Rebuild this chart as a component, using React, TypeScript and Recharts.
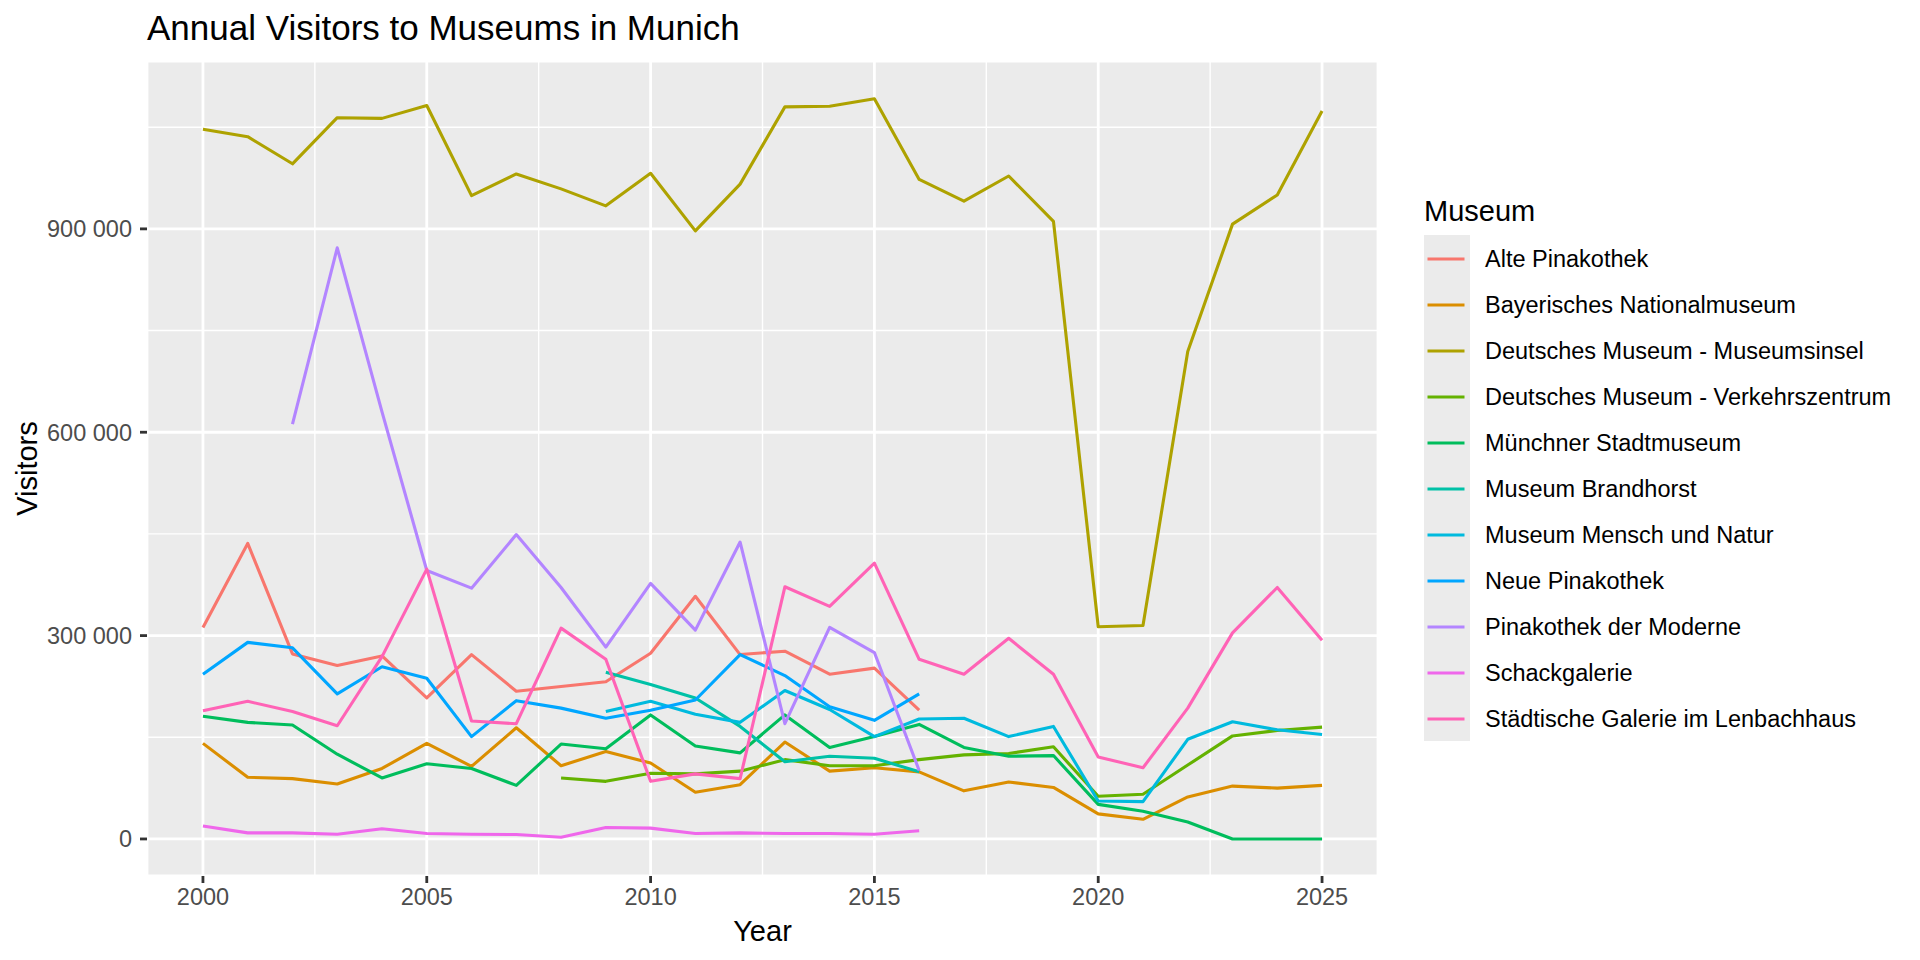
import React from 'react';
import {
  LineChart,
  Line,
  XAxis,
  YAxis,
  CartesianGrid,
  ReferenceLine,
  Legend,
  Label,
} from 'recharts';

// ---------- data ----------
const years = [
  2000, 2001, 2002, 2003, 2004, 2005, 2006, 2007, 2008, 2009, 2010, 2011, 2012,
  2013, 2014, 2015, 2016, 2017, 2018, 2019, 2020, 2021, 2022, 2023, 2024, 2025,
];

const altePinakothek = [
  312000, 436000, 273000, 256000, 270000, 208000, 272000, 218000, 225000, 232000,
  274000, 358000, 272000, 277000, 243000, 252000, 190000,
  null, null, null, null, null, null, null, null, null,
];
const bayerischesNationalmuseum = [
  141000, 91000, 89000, 81000, 104000, 141000, 107000, 164000, 108000, 129000,
  112000, 69000, 80000, 143000, 100000, 105000, 99000, 71000, 84000, 76000,
  37000, 29000, 62000, 78000, 75000, 79000,
];
const museumsinsel = [
  1047000, 1036000, 996000, 1064000, 1063000, 1082000, 949000, 981000, 959000,
  934000, 982000, 897000, 966000, 1080000, 1081000, 1092000, 973000, 941000,
  978000, 911000, 313000, 315000, 719000, 907000, 950000, 1074000,
];
const verkehrszentrum = [
  null, null, null, null, null, null, null, null,
  90000, 85000, 97000, 96000, 100000, 117000, 108000, 108000, 117000, 124000,
  126000, 136000, 63000, 66000, 109000, 152000, 160000, 165000,
];
const stadtmuseum = [
  181000, 172000, 168000, 125000, 90000, 111000, 104000, 79000, 140000, 133000,
  183000, 137000, 127000, 183000, 135000, 151000, 169000, 135000, 122000, 123000,
  51000, 41000, 25000, 0, 0, 0,
];
const brandhorst = [
  null, null, null, null, null, null, null, null, null,
  246000, 228000, 208000, 166000, 114000, 122000, 119000, 99000,
  null, null, null, null, null, null, null, null, null,
];
const menschUndNatur = [
  null, null, null, null, null, null, null, null, null,
  188000, 203000, 184000, 172000, 219000, 191000, 151000, 177000, 178000, 151000,
  166000, 56000, 55000, 147000, 173000, 161000, 154000,
];
const neuePinakothek = [
  243000, 290000, 282000, 214000, 254000, 237000, 151000, 204000, 193000, 178000,
  190000, 205000, 272000, 241000, 195000, 175000, 214000,
  null, null, null, null, null, null, null, null, null,
];
const pinakothekDerModerne = [
  null, null,
  612000, 872000, 630000, 396000, 370000, 449000, 371000, 283000, 377000, 308000,
  438000, 170000, 312000, 275000, 101000,
  null, null, null, null, null, null, null, null, null,
];
const schackgalerie = [
  19000, 9000, 9000, 7000, 15000, 8000, 7000, 6500, 2500, 17000, 16000, 8000,
  9000, 8000, 8000, 7000, 12000,
  null, null, null, null, null, null, null, null, null,
];
const lenbachhaus = [
  189000, 203000, 188000, 167000, 269000, 398000, 174000, 170000, 311000, 265000,
  85000, 96000, 89000, 372000, 343000, 407000, 265000, 243000, 296000, 243000,
  121000, 105000, 193000, 304000, 371000, 293000,
];

const museumNames = [
  'Alte Pinakothek',
  'Bayerisches Nationalmuseum',
  'Deutsches Museum - Museumsinsel',
  'Deutsches Museum - Verkehrszentrum',
  'Münchner Stadtmuseum',
  'Museum Brandhorst',
  'Museum Mensch und Natur',
  'Neue Pinakothek',
  'Pinakothek der Moderne',
  'Schackgalerie',
  'Städtische Galerie im Lenbachhaus',
];
const museumValues = [
  altePinakothek,
  bayerischesNationalmuseum,
  museumsinsel,
  verkehrszentrum,
  stadtmuseum,
  brandhorst,
  menschUndNatur,
  neuePinakothek,
  pinakothekDerModerne,
  schackgalerie,
  lenbachhaus,
];
const museumColors = [
  '#F8766D', '#DB8E00', '#AEA200', '#64B200', '#00BD5C', '#00C1A7',
  '#00BADE', '#00A6FF', '#B385FF', '#EF67EB', '#FF63B6',
];

const xTicks = [2000, 2005, 2010, 2015, 2020, 2025];
const xMinor = [2002.5, 2007.5, 2012.5, 2017.5, 2022.5];
const yTicks = [0, 300000, 600000, 900000];
const yMinor = [150000, 450000, 750000, 1050000];

const chartTitle = 'Annual Visitors to Museums in Munich';
const xTitle = 'Year';
const yTitle = 'Visitors';
const legendTitle = 'Museum';

// ---------- derived table ----------
const tableData = years.map((year, i) => {
  const row: Record<string, number | null> = { year };
  museumValues.forEach((vals, k) => {
    row['s' + k] = vals[i];
  });
  return row;
});

const FONT = '"Liberation Sans", Arial, Helvetica, sans-serif';
const LINE_W = 3.1;

const fmt = (v: number) => String(v).replace(/\B(?=(\d{3})+(?!\d))/g, ' ');

const renderLegend = (props: any) => {
  const payload: any[] = props.payload || [];
  const colorOf = (name: string, k: number) => {
    const p = payload.find((e) => e.value === name);
    return p ? p.color : museumColors[k];
  };
  return (
    <div style={{ fontFamily: FONT, textAlign: 'left' }}>
      <div style={{ fontSize: 29, lineHeight: '36px', height: 36, color: '#000' }}>
        {legendTitle}
      </div>
      <div style={{ marginTop: 6 }}>
        {museumNames.map((name, k) => (
          <div key={name} style={{ display: 'flex', alignItems: 'center', height: 46 }}>
            <div style={{ width: 46, height: 46, background: '#EBEBEB', flex: 'none' }}>
              <svg width={46} height={46} style={{ display: 'block' }}>
                <line x1={3.5} y1={24} x2={40.5} y2={24} stroke={colorOf(name, k)} strokeWidth={LINE_W} />
              </svg>
            </div>
            <div style={{ marginLeft: 15, marginTop: 2, fontSize: 23.5, color: '#000', whiteSpace: 'nowrap' }}>
              {name}
            </div>
          </div>
        ))}
      </div>
    </div>
  );
};

export default function App() {
  return (
    <div
      style={{
        position: 'absolute',
        left: 0,
        top: 0,
        width: 1920,
        height: 960,
        background: '#FFFFFF',
        fontFamily: FONT,
        overflow: 'hidden',
      }}
    >
      <div
        style={{
          position: 'absolute',
          left: 147,
          top: 8,
          fontSize: 35,
          lineHeight: '40px',
          color: '#000',
          whiteSpace: 'nowrap',
          zIndex: 2,
        }}
      >
        {chartTitle}
      </div>
      <LineChart
        width={1920}
        height={960}
        data={tableData}
        margin={{ top: 61, right: 542, bottom: 14, left: 10 }}
        style={{ fontFamily: FONT }}
      >
        <CartesianGrid fill="#EBEBEB" stroke="#FFFFFF" strokeWidth={2.8} />
        {xMinor.map((v) => (
          <ReferenceLine key={'xm' + v} x={v} stroke="#FFFFFF" strokeWidth={1.4} />
        ))}
        {yMinor.map((v) => (
          <ReferenceLine key={'ym' + v} y={v} stroke="#FFFFFF" strokeWidth={1.4} />
        ))}
        <XAxis
          dataKey="year"
          type="number"
          domain={[1998.75, 2026.25]}
          allowDataOverflow
          ticks={xTicks}
          height={70}
          axisLine={false}
          tickLine={{ stroke: '#333333', strokeWidth: 2.8 }}
          tickSize={7}
          tickMargin={5}
          tick={{ fill: '#4D4D4D', fontSize: 23.5, fontFamily: FONT }}
          interval={0}
        >
          <Label
            value={xTitle}
            position="insideBottom"
            offset={5}
            style={{ fill: '#000', fontSize: 29, fontFamily: FONT }}
          />
        </XAxis>
        <YAxis
          type="number"
          domain={[-54650, 1147650]}
          allowDataOverflow
          ticks={yTicks}
          width={137}
          axisLine={false}
          tickLine={{ stroke: '#333333', strokeWidth: 2.8 }}
          tickSize={7}
          tickMargin={8}
          tickFormatter={fmt}
          tick={{ fill: '#4D4D4D', fontSize: 23.5, fontFamily: FONT }}
          interval={0}
        >
          <Label
            value={yTitle}
            angle={-90}
            position="insideLeft"
            offset={17}
            style={{ fill: '#000', fontSize: 29, fontFamily: FONT, textAnchor: 'middle' }}
          />
        </YAxis>
        {museumNames.map((name, k) => (
          <Line
            key={name}
            dataKey={'s' + k}
            name={name}
            type="linear"
            stroke={museumColors[k]}
            strokeWidth={LINE_W}
            strokeLinejoin="round"
            dot={false}
            activeDot={false}
            connectNulls={false}
            isAnimationActive={false}
          />
        ))}
        <Legend
          layout="vertical"
          align="center"
          verticalAlign="middle"
          content={renderLegend}
          wrapperStyle={{ left: 1424, top: 193, width: 490, height: 550 }}
        />
      </LineChart>
    </div>
  );
}
